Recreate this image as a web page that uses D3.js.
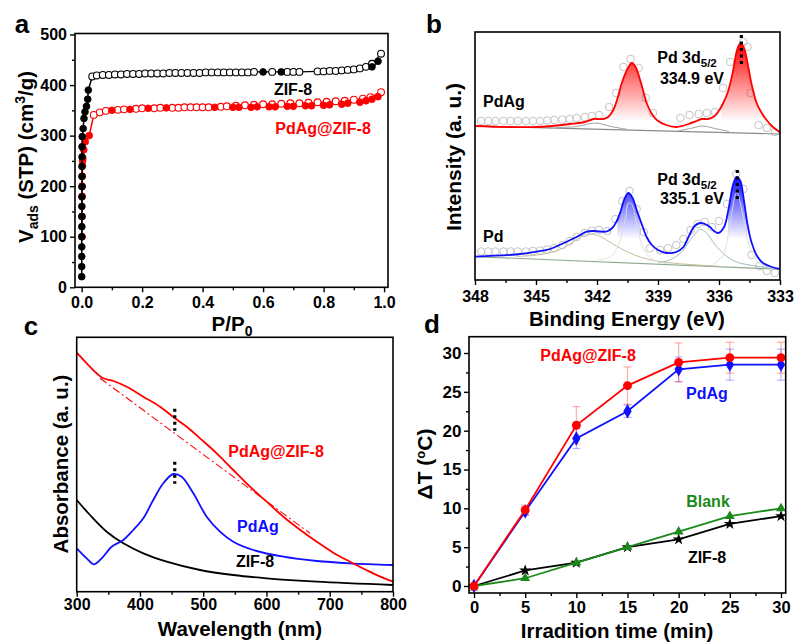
<!DOCTYPE html>
<html><head><meta charset="utf-8">
<script src="https://cdn.jsdelivr.net/npm/d3@7"></script>
<style>body{margin:0;background:#fff;}</style>
</head><body>
<script>
// ---------------- Panel a : N2 isotherms ----------------
const zifAdsP = [0.0001,0.0002,0.0003,0.0004,0.0005,0.0006,0.0007,0.0008,0.0009,0.001,0.0011,0.0012,0.0013,0.0014,0.002,0.005,0.0077,0.011,0.016,0.02,0.022,0.6,0.66,0.96,0.98];
const zifAdsV = [21,41,61,80,100,120,140,160,179,199,219,239,258,278,298,314,334,347,358,372,390,426,426,436,447];
const zifDesP = [0.035,0.05,0.07,0.09,0.11,0.13,0.15,0.17,0.19,0.21,0.23,0.25,0.27,0.29,0.31,0.33,0.35,0.37,0.39,0.41,0.43,0.45,0.47,0.49,0.51,0.53,0.55,0.57,0.63,0.68,0.70,0.72,0.78,0.80,0.82,0.84,0.86,0.88,0.90,0.92,0.94,0.96,0.99];
const zifDesV = [417,419,420,420,421,421,422,422,422,423,423,423,423,424,424,424,424,424,424,425,425,425,425,425,425,425,425,426,426,426,426,426,427,427,428,428,429,430,431,433,436,442,462];
const pdAdsP = [0.0012,0.0014,0.0016,0.0018,0.002,0.0025,0.003,0.004,0.007,0.012,0.025,0.1,0.16,0.22,0.28,0.44,0.5,0.52,0.56,0.58,0.62,0.64,0.68,0.7,0.74,0.76,0.8,0.82,0.86,0.88,0.92,0.94,0.96,0.98];
const pdAdsV = [100,140,180,200,220,240,250,255,272,288,300,350,352,354,355,356,356,356,356,357,357,357,358,358,359,359,360,361,362,364,366,369,372,377];
const pdDesP = [0.04,0.06,0.08,0.12,0.14,0.18,0.20,0.24,0.26,0.30,0.32,0.34,0.36,0.38,0.40,0.42,0.46,0.48,0.51,0.54,0.57,0.60,0.63,0.66,0.69,0.72,0.75,0.78,0.81,0.84,0.87,0.90,0.93,0.955,0.99];
const pdDesV = [341,346,349,351,352,353,354,354,355,355,355,356,356,356,356,356,357,358,359,360,361,362,362,363,364,364,365,366,367,368,369,371,373,376,386];
const aXTicks = [0,0.2,0.4,0.6,0.8,1.0];
const aYTicks = [0,100,200,300,400,500];

// ---------------- Panel b : XPS (binding energy, intensity a.u.) ----------------
const fitPdAg = [[333.0,147],[333.16,149],[333.4,153],[333.66,159],[333.9,166],[334.15,176],[334.4,195],[334.56,212],[334.75,230],[334.93,236],[335.1,230],[335.3,209],[335.55,188],[335.79,176],[336.05,167],[336.28,162],[336.55,160],[336.85,160],[337.1,158],[337.5,155],[338.08,152],[338.6,154],[339.06,159],[339.3,165],[339.56,176],[339.75,190],[339.88,199],[340.1,212],[340.29,216],[340.5,210],[340.78,196],[341.0,180],[341.2,169],[341.45,162],[341.69,160],[342.0,160],[342.18,160],[342.6,157],[343.33,155],[344.97,152],[348.0,153]];
const fitPd = [[333.0,10],[333.4,12],[333.82,15.7],[334.1,22],[334.39,36],[334.6,55],[334.8,82],[334.95,98],[335.13,102],[335.3,95],[335.54,69],[335.75,52],[336.03,46],[336.25,48],[336.44,52],[336.7,55],[336.93,56],[337.2,53],[337.5,42],[337.75,32],[338.1,27],[338.57,26],[339.0,29],[339.3,34],[339.56,42],[339.8,55],[340.05,69],[340.25,81],[340.46,86],[340.65,80],[340.85,67],[341.03,58],[341.25,51],[341.52,47.5],[341.85,47.5],[342.18,48],[342.5,47.3],[343.0,42],[343.66,35.7],[344.3,30],[344.97,27.3],[346.0,24.5],[348.0,22.3]];
const basePdAg = [[348,153],[333,145]];
const basePd = [[348,22.3],[333,9.7]];
const compPdAg1 = [[344.0,151.5],[343.0,152.5],[342.1,156],[341.3,152.5],[340.5,149.5]];
const compPdAg2 = [[338.0,148],[337.3,151],[336.8,153],[336.2,150.5],[335.5,147.5]];
const compPd1 = [[346,22.6],[345,23.8],[344,28],[343.3,35.4],[342.7,42.9],[342.3,45],[341.8,42],[341.2,34.7],[340.5,27],[339.8,21.4],[339,17.7],[338,15.4],[336,12.7]];
const compPd2 = [[339,16.2],[338.4,19.2],[337.9,25.8],[337.4,39.4],[337.0,49],[336.9,49.8],[336.6,45.8],[336.2,34.4],[335.7,24],[335.2,17.5],[334.5,14],[333.5,11.1]];
const compPd3 = [[342,18.8],[341.3,22.7],[340.9,36.3],[340.6,61],[340.45,76],[340.3,75],[340.0,50.7],[339.7,29.3],[339.2,18.8],[338.5,15.3]];
const compPd4 = [[336.3,14.5],[335.8,24],[335.45,56.8],[335.13,86.5],[334.85,66.3],[334.55,36],[334.2,19.7],[333.8,13.4],[333.3,11]];
const rawPdAg = [[347.7,158],[347.35,158],[347.0,158],[346.6,158],[346.25,158],[345.9,158],[345.5,158],[345.15,158],[344.8,158],[344.45,158.5],[344.1,159],[343.7,159.5],[343.35,160],[343.0,161],[342.6,162],[342.25,163],[341.9,164],[341.4,172],[341.05,186],[340.7,212],[340.35,220],[339.95,211],[339.6,181],[339.25,166],[337.9,161],[337.45,164],[337.0,165],[336.6,166],[336.2,167],[335.8,191],[335.45,217],[334.8,237],[334.6,232],[334.45,186],[334.05,154],[333.65,151],[333.25,147]];
const rawPd = [[347.7,27.5],[347.35,27.5],[347.0,27.5],[346.6,27.5],[346.25,27.5],[345.9,27.5],[345.5,27.5],[345.15,28],[344.8,28.5],[344.45,29.5],[344.1,31],[343.7,34],[343.35,38],[343.0,42],[342.6,46],[342.25,48.5],[341.9,49],[341.5,48],[341.1,60],[340.75,78],[340.4,88],[340.05,70],[339.7,47],[339.4,30.7],[338.9,29],[338.5,30.7],[338.1,34],[337.75,40],[337.4,49],[337.05,55],[336.7,57],[336.35,52],[336.0,58],[335.6,75],[335.15,105],[334.8,90],[334.4,24],[334.0,13],[333.65,8],[333.25,6]];
const bPeakMarks = [{be:334.9, lo:214, hi:244},{be:335.1, lo:79, hi:109}];
const bXTicks = [348,345,342,339,336,333];

// ---------------- Panel c : UV-vis ----------------
const uvPdAgZIF = [[300,239],[315.8,228.4],[331.6,218.4],[342,213.4],[357.9,210.7],[379,205],[405.3,195],[431.7,185],[455.4,173.4],[473.9,165],[494.9,153.4],[521.3,138.4],[547.5,121.7],[573.9,105],[600.3,90],[626.6,75],[653,62],[679.4,50],[705.6,39],[732,30],[758.4,21.5],[780,15],[800,10]];
const uvTangent = [[337,213.4],[668.8,58.4]];
const uvPdAg = [[300,43.4],[315.8,33.4],[327.4,27.4],[339.5,33.4],[355.3,45],[373.7,51.7],[389.5,61.7],[405.3,73.4],[421,91.7],[436.9,108.4],[452.7,117.7],[465.9,115],[484.4,98.4],[505.5,75],[526.5,60],[547.5,50],[579.2,41.7],[626.6,35],[679.4,30.7],[732,28.4],[800,26.7]];
const uvZIF = [[300,91.7],[321,76.7],[347.4,60],[373.7,48.4],[405.3,38.4],[442.2,30],[494.9,21.7],[547.5,16.7],[600.3,13.4],[679.4,10],[800,6.7]];
const cPeakMarks = [{wl:455, lo:161, hi:183},{wl:455, lo:108, hi:130}];
const cXTicks = [300,400,500,600,700,800];

// ---------------- Panel d : temperature rise ----------------
const times = [0,5,10,15,20,25,30];
const dPdAgZIF = [0,9.8,20.7,25.8,28.8,29.4,29.4];
const ePdAgZIF = [0,0.6,2.4,2.4,2.5,2.0,2.0];
const dPdAg = [0,9.6,19.0,22.5,27.9,28.5,28.5];
const ePdAg = [0,0.5,1.3,0.8,1.6,2.0,2.0];
const dBlank = [0,1,3,5,7,9,10];
const dZIF = [0,2,3,5,6,8,9];
const dXTicks = [0,5,10,15,20,25,30];
const dYTicks = [0,5,10,15,20,25,30];

// ================= drawing =================
const FONT = '"Liberation Sans", Arial, Helvetica, sans-serif';
const RED = '#ff0000', BLUE = '#1010ff', GREEN = '#1a8a1a';
const svg = d3.select('body').append('svg').attr('width',794).attr('height',643)
  .style('font-family',FONT).style('font-weight','bold');
const defs = svg.append('defs');

function frame(x0,y0,x1,y1){
  svg.append('rect').attr('x',x0).attr('y',y0).attr('width',x1-x0).attr('height',y1-y0)
    .attr('fill','none').attr('stroke','#000').attr('stroke-width',1.6);
}
function styleAx(g, fs){
  g.select('.domain').remove();
  g.selectAll('.tick line').attr('stroke','#000').attr('stroke-width',1.4);
  g.selectAll('.tick text').attr('font-size',fs).attr('font-weight','bold').attr('font-family',FONT).attr('fill','#000');
}
function axisBottom(scale,y,major,minor,fmt,fs,pad){
  const g = svg.append('g').attr('transform',`translate(0,${y})`)
    .call(d3.axisBottom(scale).tickValues(major).tickFormat(fmt).tickSize(5).tickPadding(pad));
  styleAx(g,fs);
  if(minor){
    const m = svg.append('g').attr('transform',`translate(0,${y})`)
      .call(d3.axisBottom(scale).tickValues(minor).tickFormat('').tickSize(3));
    styleAx(m,fs);
  }
}
function axisLeft(scale,x,major,minor,fmt,fs,pad){
  const g = svg.append('g').attr('transform',`translate(${x},0)`)
    .call(d3.axisLeft(scale).tickValues(major).tickFormat(fmt).tickSize(5).tickPadding(pad));
  styleAx(g,fs);
  if(minor){
    const m = svg.append('g').attr('transform',`translate(${x},0)`)
      .call(d3.axisLeft(scale).tickValues(minor).tickFormat('').tickSize(3));
    styleAx(m,fs);
  }
}
function label(x,y,txt,opt={}){
  return svg.append('text').attr('x',x).attr('y',y).text(txt)
    .attr('font-size',opt.fs||15.5).attr('font-weight','bold').attr('fill',opt.color||'#000')
    .attr('text-anchor',opt.anchor||'middle');
}
const mids = (arr)=>arr.slice(0,-1).map((v,i)=>(v+arr[i+1])/2);

// ---------- Panel a ----------
{
  const x = d3.scaleLinear().domain([-0.022,1.013]).range([75,388]);
  const y = d3.scaleLinear().domain([0,500]).range([287.3,34.5]);
  const zip = (P,V)=>P.map((p,i)=>[p,V[i]]);
  const line = d3.line().x(d=>x(d[0])).y(d=>y(d[1]));
  const series = [
    {ads:zip(pdAdsP,pdAdsV), des:zip(pdDesP,pdDesV), c:RED},
    {ads:zip(zifAdsP,zifAdsV), des:zip(zifDesP,zifDesV), c:'#000'}
  ];
  series.forEach(s=>{
    const adsLine = s.ads.filter(d=>d[0]<0.05).concat([s.des[0]]).sort((a,b)=>a[0]-b[0]);
    svg.append('path').attr('d',line(adsLine)).attr('fill','none').attr('stroke',s.c).attr('stroke-width',1.5);
    svg.append('path').attr('d',line(s.des)).attr('fill','none').attr('stroke',s.c).attr('stroke-width',1.2);
    svg.append('g').selectAll('circle').data(s.des).join('circle')
      .attr('cx',d=>x(d[0])).attr('cy',d=>y(d[1])).attr('r',3.4)
      .attr('fill','#fff').attr('stroke',s.c).attr('stroke-width',1.1);
    svg.append('g').selectAll('circle').data(s.ads).join('circle')
      .attr('cx',d=>x(d[0])).attr('cy',d=>y(d[1])).attr('r',3.4)
      .attr('fill',s.c).attr('stroke',s.c).attr('stroke-width',0.8);
  });
  frame(75,33.5,388,287.3);
  axisBottom(x,287.3,aXTicks,mids(aXTicks),d3.format('.1f'),16,4.5);
  axisLeft(y,75,aYTicks,mids(aYTicks),d3.format('d'),16,3);
  label(293,95,'ZIF-8',{fs:16});
  label(323,134,'PdAg@ZIF-8',{color:RED,fs:16});
  label(22,33,'a',{fs:26});
  const t = label(232,331,'P/P',{fs:20.5});
  t.append('tspan').attr('font-size',14).attr('dy',5).text('0');
  const yt = svg.append('text').attr('transform','translate(33,157) rotate(-90)')
    .attr('text-anchor','middle').attr('font-size',20.5).attr('font-weight','bold');
  yt.append('tspan').text('V');
  yt.append('tspan').attr('font-size',14).attr('dy',5).text('ads');
  yt.append('tspan').attr('dy',-5).text(' (STP) (cm');
  yt.append('tspan').attr('font-size',14).attr('dy',-8).text('3');
  yt.append('tspan').attr('dy',8).text('/g)');
}

// ---------- Panel b ----------
{
  const x = d3.scaleLinear().domain([348,333]).range([475,780]);
  const y = d3.scaleLinear().domain([-1,247]).range([280,32]);
  const line = d3.line().x(d=>x(d[0])).y(d=>y(d[1])).curve(d3.curveCatmullRom);
  const sortA = a=>a.slice().sort((p,q)=>p[0]-q[0]);
  const baseR = d3.scaleLinear().domain(basePdAg.map(d=>d[0])).range(basePdAg.map(d=>d[1]));
  const baseB = d3.scaleLinear().domain(basePd.map(d=>d[0])).range(basePd.map(d=>d[1]));

  const gR = defs.append('linearGradient').attr('id','gR').attr('gradientUnits','userSpaceOnUse')
    .attr('x1',0).attr('x2',0).attr('y1',y(236)).attr('y2',y(158));
  gR.append('stop').attr('offset',0).attr('stop-color',RED).attr('stop-opacity',1);
  gR.append('stop').attr('offset',1).attr('stop-color',RED).attr('stop-opacity',0);
  const gB = defs.append('linearGradient').attr('id','gB').attr('gradientUnits','userSpaceOnUse')
    .attr('x1',0).attr('x2',0).attr('y1',y(102)).attr('y2',y(40));
  gB.append('stop').attr('offset',0).attr('stop-color',BLUE).attr('stop-opacity',1);
  gB.append('stop').attr('offset',1).attr('stop-color',BLUE).attr('stop-opacity',0);
  const cp = defs.append('clipPath').attr('id','cpB');
  [[341.0,339.85],[335.55,334.55]].forEach(r=>{
    cp.append('rect').attr('x',x(r[0])).attr('y',30).attr('width',x(r[1])-x(r[0])).attr('height',260);
  });
  const cpR = defs.append('clipPath').attr('id','cpR');
  [[341.3,339.3],[335.9,333.6]].forEach(r=>{
    cpR.append('rect').attr('x',x(r[0])).attr('y',30).attr('width',x(r[1])-x(r[0])).attr('height',260);
  });

  [rawPdAg, rawPd].forEach(raw=>{
    svg.append('g').selectAll('circle').data(raw).join('circle')
      .attr('cx',d=>x(d[0])).attr('cy',d=>y(d[1])).attr('r',3.8)
      .attr('fill','none').attr('stroke','#c4c4c4').attr('stroke-width',1);
  });
  const areaR = d3.area().x(d=>x(d[0])).y0(d=>y(baseR(d[0]))).y1(d=>y(d[1])).curve(d3.curveCatmullRom);
  svg.append('path').attr('d',areaR(sortA(fitPdAg))).attr('fill','url(#gR)').attr('clip-path','url(#cpR)');
  const areaB = d3.area().x(d=>x(d[0])).y0(d=>y(baseB(d[0]))).y1(d=>y(d[1])).curve(d3.curveCatmullRom);
  svg.append('path').attr('d',areaB(sortA(fitPd))).attr('fill','url(#gB)').attr('clip-path','url(#cpB)');
  const comp = (arr,col,w)=>svg.append('path').attr('d',line(sortA(arr))).attr('fill','none').attr('stroke',col).attr('stroke-width',w);
  comp(basePdAg,'#8a8a8a',1.1);
  comp(compPdAg1,'#a0a0a0',1);
  comp(compPdAg2,'#a0a0a0',1);
  comp(basePd,'#8fa68f',1.1);
  comp(compPd1,'#c2bf9a',1);
  comp(compPd2,'#9fbcbc',1);
  comp(compPd3,'#dcdcdc',0.9);
  comp(compPd4,'#dcdcdc',0.9);
  svg.append('path').attr('d',line(sortA(fitPdAg))).attr('fill','none').attr('stroke',RED).attr('stroke-width',1.8);
  svg.append('path').attr('d',line(sortA(fitPd))).attr('fill','none').attr('stroke',BLUE).attr('stroke-width',1.8);
  bPeakMarks.forEach(m=>{
    svg.append('line').attr('x1',x(m.be)).attr('x2',x(m.be)).attr('y1',y(m.hi)).attr('y2',y(m.lo))
      .attr('stroke','#000').attr('stroke-width',3.2).attr('stroke-dasharray','3,3.5');
  });
  frame(475,32,780,280);
  axisBottom(x,280,bXTicks,mids(bXTicks),d3.format('d'),16,6);
  label(483,107,'PdAg',{anchor:'start',fs:16});
  label(483,241.5,'Pd',{anchor:'start',fs:16});
  [63,185].forEach(yy=>{
    const t = label(687,yy,'Pd 3d',{fs:16});
    t.append('tspan').attr('font-size',11.5).attr('dy',4).text('5/2');
  });
  label(692,83.5,'334.9 eV',{fs:16});
  label(692,203.5,'335.1 eV',{fs:16});
  label(434,33,'b',{fs:26});
  label(627,326,'Binding Energy (eV)',{fs:20.5});
  svg.append('text').attr('transform','translate(461,157) rotate(-90)').attr('text-anchor','middle')
    .attr('font-size',21).attr('font-weight','bold').text('Intensity (a. u.)');
}

// ---------- Panel c ----------
{
  const x = d3.scaleLinear().domain([300,800]).range([76.7,393]);
  const y = d3.scaleLinear().domain([0,254.4]).range([591.7,337.3]);
  const line = d3.line().x(d=>x(d[0])).y(d=>y(d[1])).curve(d3.curveCatmullRom);
  svg.append('path').attr('d',line(uvZIF)).attr('fill','none').attr('stroke','#000').attr('stroke-width',1.8);
  svg.append('path').attr('d',line(uvPdAg)).attr('fill','none').attr('stroke',BLUE).attr('stroke-width',1.8);
  svg.append('path').attr('d',d3.line().x(d=>x(d[0])).y(d=>y(d[1]))(uvTangent)).attr('fill','none')
    .attr('stroke',RED).attr('stroke-width',1.1).attr('stroke-dasharray','8,3,2,3');
  svg.append('path').attr('d',line(uvPdAgZIF)).attr('fill','none').attr('stroke',RED).attr('stroke-width',1.8);
  cPeakMarks.forEach(m=>{
    svg.append('line').attr('x1',x(m.wl)).attr('x2',x(m.wl)).attr('y1',y(m.hi)).attr('y2',y(m.lo))
      .attr('stroke','#000').attr('stroke-width',3.2).attr('stroke-dasharray','3,3.5');
  });
  frame(76.7,337.3,393,591.7);
  axisBottom(x,591.7,cXTicks,mids(cXTicks),d3.format('d'),16,2);
  label(276,457,'PdAg@ZIF-8',{color:RED,fs:16});
  label(258,532,'PdAg',{color:BLUE,fs:16});
  label(255,567,'ZIF-8',{fs:16});
  label(31,335,'c',{fs:26});
  label(240,636,'Wavelength (nm)',{fs:20.5});
  svg.append('text').attr('transform','translate(68,464) rotate(-90)').attr('text-anchor','middle')
    .attr('font-size',20.5).attr('font-weight','bold').text('Absorbance (a. u.)');
}

// ---------- Panel d ----------
{
  const x = d3.scaleLinear().domain([-0.49,30.46]).range([469,785.7]);
  const y = d3.scaleLinear().domain([-0.9,32.1]).range([593,336.7]);
  const line = d3.line().x(d=>x(d[0])).y(d=>y(d[1]));
  const mk = (vals,errs)=>times.map((t,i)=>({t,v:vals[i],e:errs?errs[i]:0}));
  const sets = [
    {d:mk(dZIF), c:'#000', ec:null, sym:d3.symbolStar, size:45},
    {d:mk(dBlank), c:GREEN, ec:null, sym:d3.symbolTriangle, size:42},
    {d:mk(dPdAg,ePdAg), c:BLUE, ec:'rgba(60,60,255,0.38)', sym:d3.symbolDiamond, size:60},
    {d:mk(dPdAgZIF,ePdAgZIF), c:RED, ec:'rgba(255,40,40,0.38)', sym:d3.symbolCircle, size:62}
  ];
  sets.forEach(s=>{
    if(!s.ec) return;
    const g = svg.append('g').attr('stroke',s.ec).attr('stroke-width',1.2);
    s.d.filter(p=>p.e>0).forEach(p=>{
      g.append('line').attr('x1',x(p.t)).attr('x2',x(p.t)).attr('y1',y(p.v-p.e)).attr('y2',y(p.v+p.e));
      [p.v-p.e,p.v+p.e].forEach(v=>g.append('line').attr('x1',x(p.t)-4).attr('x2',x(p.t)+4).attr('y1',y(v)).attr('y2',y(v)));
    });
  });
  sets.forEach(s=>{
    svg.append('path').attr('d',line(s.d.map(p=>[p.t,p.v]))).attr('fill','none').attr('stroke',s.c).attr('stroke-width',1.8);
    svg.append('g').selectAll('path').data(s.d).join('path')
      .attr('transform',p=>`translate(${x(p.t)},${y(p.v)})`)
      .attr('d',d3.symbol().type(s.sym).size(s.size)).attr('fill',s.c);
  });
  frame(469,336.7,785.7,593);
  axisBottom(x,593,dXTicks,mids(dXTicks),d3.format('d'),16.5,3);
  axisLeft(y,469,dYTicks,mids(dYTicks),d3.format('d'),17,2.5);
  label(588,360.5,'PdAg@ZIF-8',{color:RED,fs:16});
  label(707,399,'PdAg',{color:BLUE,fs:16});
  label(708,506.5,'Blank',{color:GREEN,fs:16});
  label(707,562.5,'ZIF-8',{fs:16});
  label(432,333,'d',{fs:26});
  label(617,638,'Irradition time (min)',{fs:20.5});
  const yt = svg.append('text').attr('transform','translate(432,464) rotate(-90)').attr('text-anchor','middle')
    .attr('font-size',21).attr('font-weight','bold');
  yt.append('tspan').text('\u0394T (');
  yt.append('tspan').attr('font-size',13).attr('dy',-7).text('o');
  yt.append('tspan').attr('dy',7).text('C)');
}
</script>
</body></html>
